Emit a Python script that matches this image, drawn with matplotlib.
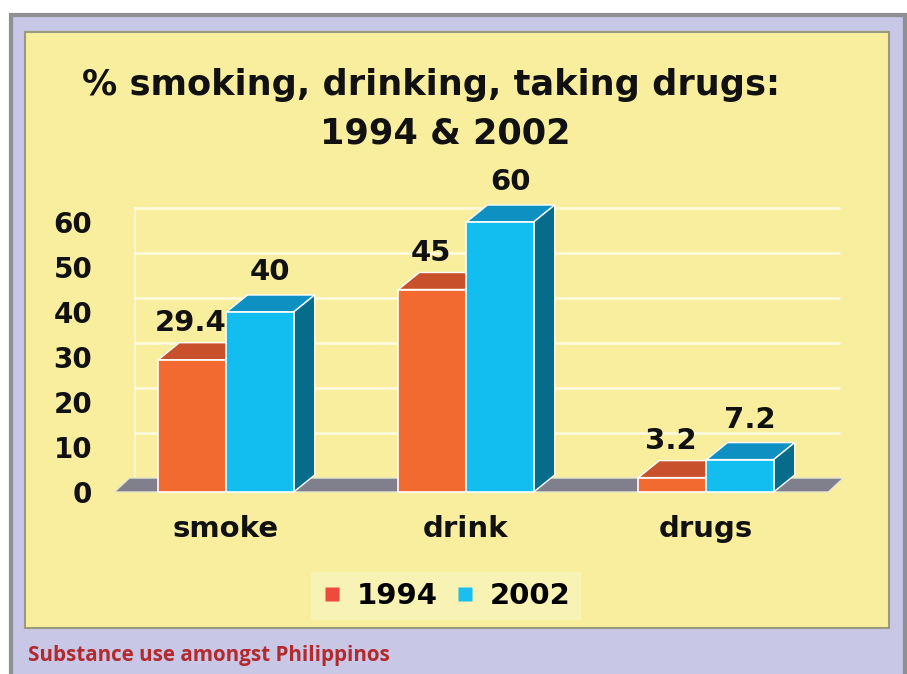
import matplotlib
matplotlib.use("Agg")
import matplotlib.pyplot as plt
from matplotlib.patches import Rectangle, Polygon
from matplotlib.lines import Line2D

# ---- data ----
categories = ["smoke", "drink", "drugs"]
years = ["1994", "2002"]
values_1994 = [29.4, 45, 3.2]
values_2002 = [40, 60, 7.2]
yticks = [0, 10, 20, 30, 40, 50, 60]
title_lines = ["% smoking, drinking, taking drugs:", "1994 & 2002"]
caption = "Substance use amongst Philippinos"

# ---- style ----
W, H = 907, 674
DPI = 100
front_cols = ["#F26A30", "#12BEF0"]
top_cols = ["#C8512B", "#0E90C2"]
side_cols = ["#A84322", "#066C8C"]
legend_cols = ["#EF4A3E", "#19BFEF"]
bg_yellow = "#F8EE9E"
lavender = "#C8C7E5"
border_gray = "#8F8F96"
floor_col = "#80808C"

plt.rcParams['font.family'] = ['DejaVu Sans']

fig = plt.figure(figsize=(W / DPI, H / DPI), dpi=DPI)
fig.patch.set_facecolor("white")

def fx(px):
    return px / W

def fy(py):
    return 1 - py / H

# outer frame
fig.patches.append(Rectangle((fx(11), fy(680)), fx(894), (680 - 15) / H,
                             transform=fig.transFigure, facecolor=lavender,
                             edgecolor=border_gray, linewidth=3, zorder=-3))
# yellow panel
fig.patches.append(Rectangle((fx(25), fy(628)), fx(864), (628 - 32) / H,
                             transform=fig.transFigure, facecolor=bg_yellow,
                             edgecolor="#9C9A7C", linewidth=1.5, zorder=-2))

# ---- axes geometry ----
px_per_unit = 4.5
y0_px = 492
ymin, ymax = -3, 70
ax_bottom_px = y0_px + (-ymin) * px_per_unit
ax_top_px = y0_px - ymax * px_per_unit
x_px_per_cat = 240.0
x0_px = 226.0
xmin, xmax = -0.47, 2.57
ax_left_px = x0_px + xmin * x_px_per_cat
ax_right_px = x0_px + xmax * x_px_per_cat

ax = fig.add_axes([fx(ax_left_px), fy(ax_bottom_px),
                   fx(ax_right_px - ax_left_px), (ax_bottom_px - ax_top_px) / H])
ax.set_zorder(5)
ax.set_xlim(xmin, xmax)
ax.set_ylim(ymin, ymax)
ax.patch.set_alpha(0)
for s in ax.spines.values():
    s.set_visible(False)

# depth offsets in data units
bdx = 21 / x_px_per_cat
bdy = 17 / px_per_unit
fdx = 15 / x_px_per_cat
fdy = 14 / px_per_unit

# floor
floor_right = 2.51
ax.add_patch(Polygon([(xmin + 0.005, 0), (floor_right, 0),
                      (floor_right + fdx, fdy), (xmin + 0.005 + fdx, fdy)],
                     closed=True, facecolor=floor_col, edgecolor="#E8E6D0",
                     linewidth=1.0, zorder=2))

# back-wall gridlines
for t in yticks[1:]:
    ax.plot([xmin + fdx + 0.03, floor_right + fdx - 0.02], [t + fdy, t + fdy],
            color="#FFFDF0", linewidth=2.0, alpha=0.75, zorder=1,
            solid_capstyle="round")
ax.plot([xmin + fdx + 0.03, xmin + fdx + 0.03], [fdy, yticks[-1] + fdy],
        color="#FFFDF0", linewidth=1.5, alpha=0.55, zorder=1)

# bars
bar_w = 0.28
gap = 0.004
series = [values_1994, values_2002]
for si, vals in enumerate(series):
    for ci, v in enumerate(vals):
        x0 = ci - bar_w - gap / 2 if si == 0 else ci + gap / 2
        z = 3 + si * 3
        # top face
        ax.add_patch(Polygon([(x0, v), (x0 + bar_w, v), (x0 + bar_w + bdx, v + bdy),
                              (x0 + bdx, v + bdy)], closed=True,
                             facecolor=top_cols[si], edgecolor="white",
                             linewidth=1.0, zorder=z))
        # side face
        ax.add_patch(Polygon([(x0 + bar_w, 0), (x0 + bar_w + bdx, bdy),
                              (x0 + bar_w + bdx, v + bdy), (x0 + bar_w, v)],
                             closed=True, facecolor=side_cols[si], edgecolor="white",
                             linewidth=1.0, zorder=z + 1))
        # front face
        ax.bar(x0, v, width=bar_w, align="edge", color=front_cols[si],
               edgecolor="white", linewidth=1.2, zorder=z + 2)

# value labels
label_dx = [-0.05, 0.0]
label_dy = [1.3, 2.0]
for si, vals in enumerate(series):
    for ci, v in enumerate(vals):
        xc = (ci - bar_w / 2 if si == 0 else ci + bar_w / 2) + bdx / 2 + label_dx[si]
        ax.text(xc, v + bdy + label_dy[si], f"{v:g}", ha="center", va="bottom",
                fontsize=21, fontweight="bold", color="#111111", zorder=10)

# ticks
ax.set_yticks(yticks)
ax.set_yticklabels([str(t) for t in yticks], fontsize=20, fontweight="bold")
ax.set_xticks(range(len(categories)))
ax.set_xticklabels(categories, fontsize=21, fontweight="bold")
ax.tick_params(axis="y", length=0, pad=15, colors="#111111")
ax.tick_params(axis="x", length=0, pad=7, colors="#111111")

# title
fig.text(fx(431), fy(85), title_lines[0], ha="center", va="center",
         fontsize=25.3, fontweight="bold", color="#111111")
fig.text(fx(445), fy(133), title_lines[1], ha="center", va="center",
         fontsize=25.3, fontweight="bold", color="#111111")

# legend
handles = [Line2D([], [], marker="s", linestyle="none", markersize=10,
                  markerfacecolor=legend_cols[i], markeredgecolor="none")
           for i in range(2)]
leg = fig.legend(handles, years, loc="center", bbox_to_anchor=(fx(446), fy(596)),
                 ncol=2, frameon=True, fancybox=False,
                 prop={"size": 21, "weight": "bold"},
                 handlelength=0.7, handletextpad=0.5, columnspacing=0.6,
                 borderpad=0.35)
leg.get_frame().set_facecolor("#FBF6C8")
leg.get_frame().set_edgecolor("none")
leg.get_frame().set_alpha(0.55)

# caption
fig.text(fx(28), fy(656), caption, ha="left", va="center", fontsize=14.85,
         fontweight="bold", color="#B22A2E", family=["Open Sans", "DejaVu Sans"])

fig.savefig("out.png", dpi=DPI)
